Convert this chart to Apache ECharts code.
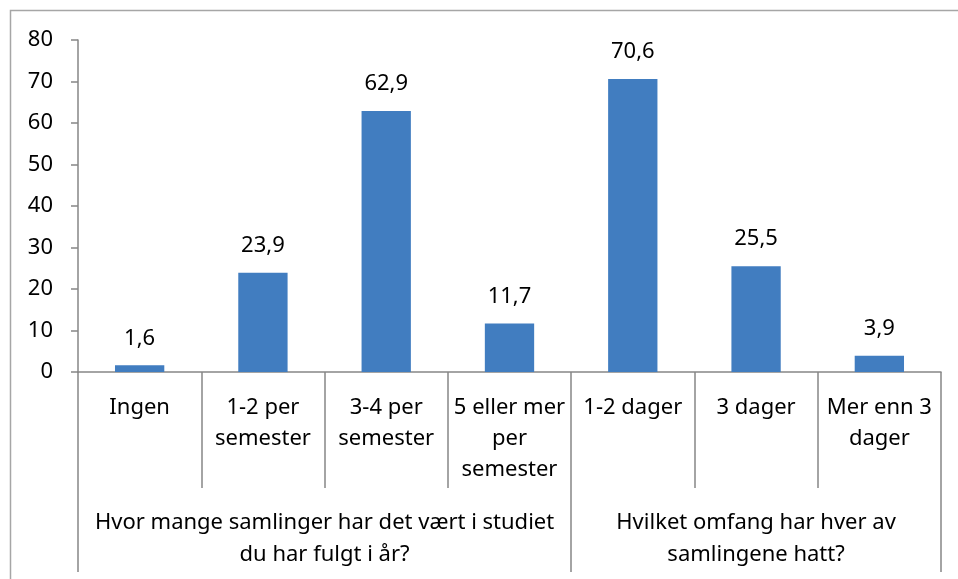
<!DOCTYPE html>
<html>
<head>
<meta charset="utf-8">
<script src="https://cdn.jsdelivr.net/npm/echarts@6/dist/echarts.min.js"></script>
<style>html,body{margin:0;padding:0;background:#fff}#c{width:958px;height:579px}</style>
</head>
<body>
<div id="c"></div>
<script>
const categories = ["Ingen", "1-2 per\nsemester", "3-4 per\nsemester", "5 eller mer\nper\nsemester", "1-2 dager", "3 dager", "Mer enn 3\ndager"];
const values = [1.6, 23.9, 62.9, 11.7, 70.6, 25.5, 3.9];
const groupLabels = ["Hvor mange samlinger har det vært i studiet\ndu har fulgt i år?", "Hvilket omfang har hver av\nsamlingene hatt?"];
const groupSizes = [4, 3];
const yTicks = [0, 10, 20, 30, 40, 50, 60, 70, 80];

const FONT = 'Noto Sans';
const FS = 22;
const AXIS = '#868686';

const bounds = [0];
groupSizes.forEach(s => bounds.push(bounds[bounds.length - 1] + s));
const centers = groupSizes.map((s, i) => bounds[i] + s / 2);

const chart = echarts.init(document.getElementById('c'));
chart.setOption({
  animation: false,
  textStyle: { fontFamily: FONT },
  graphic: [{
    type: 'rect', silent: true,
    shape: { x: 10.5, y: 10.5, width: 1000, height: 1000 },
    style: { fill: 'none', stroke: '#a6a6a6', lineWidth: 1.5 }
  }],
  grid: { left: 78, right: 17, top: 40, bottom: 207, containLabel: false },
  xAxis: [{
    type: 'category',
    data: categories,
    axisLine: { lineStyle: { color: AXIS, width: 1.5 } },
    axisTick: { show: true, length: 116, lineStyle: { color: AXIS, width: 1.5 } },
    axisLabel: { color: '#000', fontSize: FS, fontFamily: FONT, lineHeight: 31, margin: 20, interval: 0 }
  }, {
    type: 'value',
    position: 'bottom',
    min: 0, max: categories.length,
    axisLine: { show: false },
    splitLine: { show: false },
    axisTick: { show: true, length: 200, customValues: bounds, lineStyle: { color: AXIS, width: 1.5 } },
    axisLabel: {
      customValues: centers, color: '#000', fontSize: FS, fontFamily: FONT, lineHeight: 32, margin: 135,
      formatter: v => { const i = centers.indexOf(v); return i >= 0 ? groupLabels[i] : ''; }
    }
  }],
  yAxis: {
    type: 'value', min: 0, max: 80, interval: 10,
    axisLine: { show: true, lineStyle: { color: AXIS, width: 1.5 } },
    axisTick: { show: true, length: 7, lineStyle: { color: AXIS, width: 1.5 } },
    splitLine: { show: false },
    axisLabel: { color: '#000', fontSize: FS, fontFamily: FONT, margin: 25,
      formatter: v => yTicks.includes(v) ? String(v) : '' }
  },
  series: [{
    type: 'bar',
    data: values,
    xAxisIndex: 0,
    barWidth: '40%',
    itemStyle: { color: '#417DC0' },
    label: { show: true, position: 'top', distance: 16, color: '#000', fontSize: FS, fontFamily: FONT,
      formatter: p => String(p.value).replace('.', ',') }
  }]
});
</script>
</body>
</html>
